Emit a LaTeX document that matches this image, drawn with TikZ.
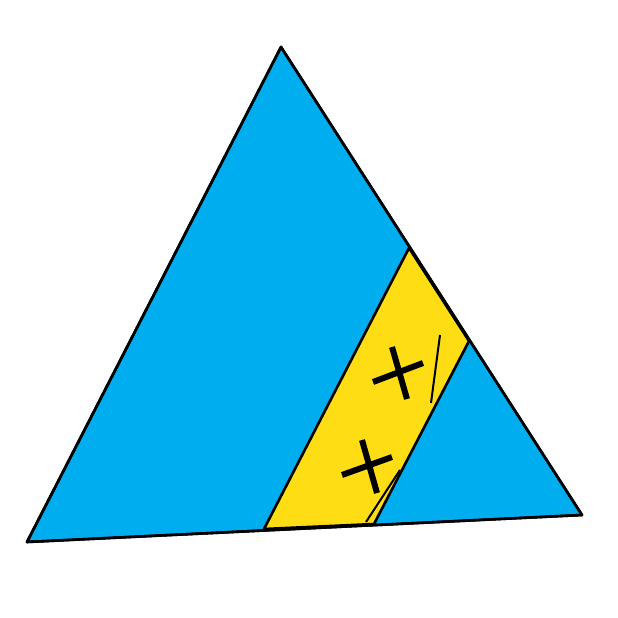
\documentclass[tikz,border=0pt]{standalone}
\usepackage{amsmath}
\usepackage{tikz}
\usepackage{color}

\definecolor{skyblue}{RGB}{0,174,239}
\definecolor{stripyellow}{RGB}{255,221,21}

\begin{document}
\begin{tikzpicture}[x=1pt,y=-1pt]
%\draw[help lines=.1] (0,0) grid (618,618);
\useasboundingbox (0,0) rectangle (618,618);

 \coordinate (top) at (281,47);
 \coordinate (left) at (27,542);
 \coordinate (right) at (582,515);

 % blue triangle
 \draw[fill=skyblue, line width=2.6pt, line join=round] (top) -- (right) -- (left) -- cycle;

 % yellow strip
 \draw[fill=stripyellow, line width=2.6pt, line join=round] (409,248) -- (469,341) -- (374,524) -- (264,529) -- cycle;

 % outline again on top
 \draw[line width=2.6pt, line join=round] (top) -- (right) -- (left) -- cycle;

 % crosses
\begin{scope}[line width=6pt]
 \draw (392,347) -- (407,399);
 \draw (373,382) -- (423,363);
 \draw (362,440) -- (377,493);
 \draw (342,475) -- (392,457);
\end{scope}

 % ticks
\begin{scope}[line width=2pt]
 \draw (440,335) -- (431,403);
 \draw (366,522) -- (400,470);
\end{scope}

\end{tikzpicture}
\end{document}
